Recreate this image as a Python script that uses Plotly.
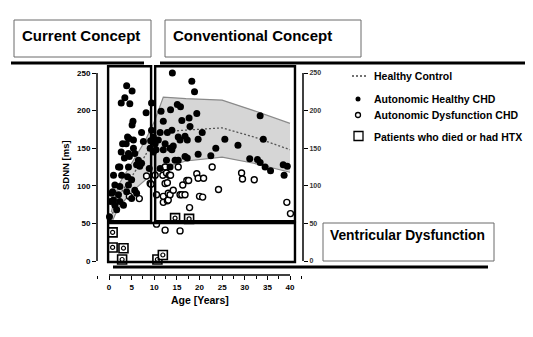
import plotly.graph_objects as go

# ---- data -------------------------------------------------------------
# Autonomic healthy CHD patients (age in years, SDNN in ms)
healthy_age = [0.1, 0.4, 0.6, 0.8, 1.0, 1.0, 1.3, 1.3, 1.7, 2.1, 2.1, 2.4, 2.4, 2.4, 2.7, 2.7,
               2.8, 3.0, 3.2, 3.4, 3.5, 3.8, 3.9, 3.9, 4.1, 4.1, 4.3, 4.3, 4.3, 4.4, 4.5, 4.6,
               5.0, 5.0, 5.1, 5.1, 5.3, 5.4, 5.4, 5.7, 5.7, 6.1, 6.1, 6.5, 6.8, 7.2, 7.2, 7.6,
               8.2, 8.9, 9.1, 9.2, 9.4, 9.4, 9.8, 9.8, 10.2, 10.4,
               10.9, 11.3, 11.3, 11.5, 12.0, 12.0, 12.4, 12.7, 12.9, 13.5, 13.5, 13.6, 13.9,
               13.9, 14.0, 14.2, 14.6, 15.1, 15.3, 15.3, 15.7, 15.8, 16.1, 16.8, 16.8, 17.3,
               17.3, 17.7, 17.9, 18.3, 18.9, 19.4, 19.7, 19.7, 20.6, 22.5, 23.6, 25.6, 28.5,
               31.1, 32.8, 33.4, 33.4, 34.1, 34.5, 35.7, 38.5, 39.4, 38.7]
healthy_sdnn = [59, 79, 90, 92, 81, 114, 101, 74, 68, 88, 125, 79, 99, 125, 145, 210,
                114, 156, 74, 137, 217, 156, 92, 233, 165, 112, 143, 125, 101, 163, 139, 209,
                108, 83, 226, 181, 186, 161, 150, 143, 94, 128, 90, 134, 126, 171, 130, 159,
                197, 123, 150, 160, 210, 174, 165, 145, 156, 148,
                161, 171, 123, 199, 186, 148, 156, 134, 171, 150, 125, 201, 174,
                148, 250, 153, 134, 208, 165, 134, 161, 205, 187, 166, 139, 161,
                137, 190, 179, 239, 225, 196, 162, 142, 171, 140, 150, 162, 154,
                136, 135, 131, 193, 162, 125, 120, 128, 126, 114]

# Autonomic dysfunction CHD patients
dysf_age = [4.5, 6.7, 8.3, 9.1, 9.3, 10.2, 10.5, 10.5, 11.9, 12.0, 12.0, 12.4, 12.4, 12.4,
            12.7, 12.9, 12.9, 13.1, 13.1, 13.3, 13.5, 13.6, 14.2, 15.3, 15.7, 15.7, 16.1,
            16.3, 16.8, 17.2, 17.6, 17.8, 19.4, 19.7, 20.0, 20.7, 20.9, 22.8, 24.2, 29.3,
            29.5, 32.1, 39.3, 40.1]
dysf_sdnn = [86, 83, 113, 103, 102, 114, 88, 49, 114, 86, 78, 125, 103, 41,
             117, 80, 104, 81, 90, 114, 88, 114, 94, 125, 88, 40, 88,
             101, 88, 107, 107, 71, 116, 110, 86, 85, 110, 125, 95, 117,
             109, 108, 78, 63]

# Patients who died or had heart transplantation
died_age = [0.8, 0.8, 3.2, 2.9, 10.7, 11.9, 14.6, 17.7]
died_sdnn = [38, 18, 17, 2, 2, 8, 57, 56]

# Healthy control reference: mean and normal range
ctrl_age = [0.5, 2, 5, 8, 10, 12, 17, 25, 32, 40]
ctrl_mean = [58, 85, 112, 140, 165, 172, 174, 177, 165, 148]
ctrl_upper = [65, 100, 130, 160, 185, 218, 216, 214, 200, 183]
ctrl_lower = [50, 70, 92, 108, 118, 124, 133, 138, 130, 118]

x_ticks = [0, 5, 10, 15, 20, 25, 30, 35, 40]
y_ticks = [0, 50, 100, 150, 200, 250]

# ---- figure geometry ----------------------------------------------------
W, H = 533, 337
FONT = "Liberation Sans, Arial, sans-serif"


def px(x):
    return x / W


def py(y):
    return 1 - y / H


fig = go.Figure()

# control band (lower edge, then upper edge filled down to it)
fig.add_trace(go.Scatter(x=ctrl_age, y=ctrl_lower, mode="lines",
                         line=dict(color="#8a8a8a", width=1.2), hoverinfo="skip"))
fig.add_trace(go.Scatter(x=ctrl_age, y=ctrl_upper, mode="lines", fill="tonexty",
                         fillcolor="#d6d6d6",
                         line=dict(color="#8a8a8a", width=1.2), hoverinfo="skip"))
fig.add_trace(go.Scatter(x=ctrl_age, y=ctrl_mean, mode="lines",
                         line=dict(color="#555555", width=1.3, dash="2px,2px"),
                         name="Healthy Control"))

fig.add_trace(go.Scatter(x=dysf_age, y=dysf_sdnn, mode="markers", cliponaxis=False,
                         marker=dict(symbol="circle", size=6, color="white",
                                     line=dict(color="black", width=1.4)),
                         name="Autonomic Dysfunction CHD"))
fig.add_trace(go.Scatter(x=healthy_age, y=healthy_sdnn, mode="markers", cliponaxis=False,
                         marker=dict(symbol="circle", size=7, color="black",
                                     line=dict(width=0)),
                         name="Autonomic Healthy CHD"))
fig.add_trace(go.Scatter(x=died_age, y=died_sdnn, mode="markers", cliponaxis=False,
                         marker=dict(symbol="square", size=9, color="white",
                                     line=dict(color="black", width=1.6)),
                         name="Patients who died or had HTX"))
fig.add_trace(go.Scatter(x=died_age, y=died_sdnn, mode="markers", cliponaxis=False,
                         marker=dict(symbol="circle-open", size=4, color="black",
                                     line=dict(color="black", width=1.2)),
                         hoverinfo="skip"))

# right-hand axis carrying the same scale
fig.add_trace(go.Scatter(x=[None], y=[None], yaxis="y2", hoverinfo="skip"))

x0_px, x40_px = 109, 290
y0_px, y250_px = 261, 73
sx = (x40_px - x0_px) / 40
sy = (y0_px - y250_px) / 250
left_px, right_px, bottom_px, top_px = 97, 303, 275, 62
x_range = [(left_px - x0_px) / sx, (right_px - x0_px) / sx]
y_range = [(y0_px - bottom_px) / sy, (y0_px - top_px) / sy]

tickfont = dict(family=FONT, size=8, color="black", weight="bold")
common_y = dict(range=y_range, tickvals=y_ticks, ticks="outside", ticklen=4,
                tickwidth=1.3, tickcolor="black", showgrid=False, zeroline=False,
                showline=False, tickfont=tickfont,
                domain=[py(bottom_px), py(top_px)])

fig.update_layout(
    width=W, height=H,
    margin=dict(l=0, r=0, t=0, b=0),
    paper_bgcolor="white", plot_bgcolor="rgba(0,0,0,0)",
    showlegend=False,
    xaxis=dict(range=x_range, domain=[px(left_px), px(right_px)], tickvals=x_ticks,
               ticks="outside", ticklen=4, tickwidth=1.3, tickcolor="black",
               showgrid=False, zeroline=False, showline=False, tickfont=tickfont,
               minor=dict(dtick=2.5, tick0=0, ticks="outside", ticklen=2.5,
                          tickwidth=1, tickcolor="black", showgrid=False)),
    yaxis=dict(**common_y, side="left"),
    yaxis2=dict(**common_y, side="right", overlaying="y", anchor="x"),
)
fig.update_layout(yaxis2=dict(tickfont=dict(family=FONT, size=7, color="#333", weight="bold")))

shapes = []
# bracket-style axis lines
shapes.append(dict(type="line", xref="paper", yref="y", x0=px(left_px), x1=px(left_px),
                   y0=0, y1=250, line=dict(color="black", width=1.5)))
shapes.append(dict(type="line", xref="paper", yref="y", x0=px(right_px), x1=px(right_px),
                   y0=0, y1=250, line=dict(color="black", width=1.5)))
shapes.append(dict(type="line", xref="x", yref="paper", x0=0, x1=40,
                   y0=py(bottom_px), y1=py(bottom_px), line=dict(color="black", width=1.5)))

box_line = dict(color="black", width=2.4)
# "current concept" region: young children
shapes.append(dict(type="rect", xref="x", yref="y", x0=-0.2, x1=9.3, y0=53, y1=259,
                   line=box_line, layer="above"))
# "conventional concept" region
shapes.append(dict(type="rect", xref="x", yref="y", x0=10.2, x1=41.1, y0=53, y1=259,
                   line=box_line, layer="above"))
# ventricular dysfunction region
shapes.append(dict(type="rect", xref="x", yref="y", x0=-0.2, x1=41.1, y0=-1.3, y1=50.5,
                   line=box_line, layer="above"))

# heavy separator rules
rule = dict(color="black", width=2.8)
shapes.append(dict(type="line", xref="paper", yref="paper", x0=px(11), x1=px(144),
                   y0=py(63), y1=py(63), line=rule))
shapes.append(dict(type="line", xref="paper", yref="paper", x0=px(160), x1=px(525),
                   y0=py(63), y1=py(63), line=rule))
shapes.append(dict(type="line", xref="paper", yref="paper", x0=px(113), x1=px(488),
                   y0=py(267), y1=py(267), line=rule))

# header and label frames
frame = dict(color="#6a6a6a", width=1)
for (a, b, c, d) in [(14, 151, 20, 57), (165, 361, 20, 57), (323, 494, 223, 261)]:
    shapes.append(dict(type="rect", xref="paper", yref="paper", x0=px(a), x1=px(b),
                       y0=py(d), y1=py(c), line=frame, fillcolor="white"))

# legend symbols
shapes.append(dict(type="line", xref="paper", yref="paper", x0=px(352), x1=px(367),
                   y0=py(76), y1=py(76), line=dict(color="#444", width=1.3, dash="2px,2px")))
shapes.append(dict(type="circle", xref="paper", yref="paper", x0=px(355.5), x1=px(360.5),
                   y0=py(101.5), y1=py(96.5), fillcolor="black", line=dict(width=0)))
shapes.append(dict(type="circle", xref="paper", yref="paper", x0=px(355.5), x1=px(360.5),
                   y0=py(117.5), y1=py(112.5), fillcolor="white",
                   line=dict(color="black", width=1.3)))
shapes.append(dict(type="rect", xref="paper", yref="paper", x0=px(354), x1=px(363),
                   y0=py(140.5), y1=py(131.5), fillcolor="white",
                   line=dict(color="black", width=1.3)))
fig.update_layout(shapes=shapes)

ann = []


def text(x, y, s, size, xanchor="left", angle=0):
    ann.append(dict(xref="paper", yref="paper", x=px(x), y=py(y), text="<b>" + s + "</b>",
                    showarrow=False, xanchor=xanchor, yanchor="middle", textangle=angle,
                    font=dict(family=FONT, size=size, color="black")))


text(20, 35, "Current Concept", 15)
text(171, 35, "Conventional Concept", 15)
text(328, 235, "Ventricular Dysfunction", 13.8)
text(372, 76, "Healthy Control", 10.5)
text(372, 99, "Autonomic Healthy CHD", 10.5)
text(372, 115, "Autonomic Dysfunction CHD", 10.5)
text(372, 137, "Patients who died or had HTX", 10.5)
text(200, 300, "Age [Years]", 10.5, xanchor="center")
text(66, 165, "SDNN [ms]", 9.5, xanchor="center", angle=-90)
fig.update_layout(annotations=ann)

fig.write_html("out.html")
